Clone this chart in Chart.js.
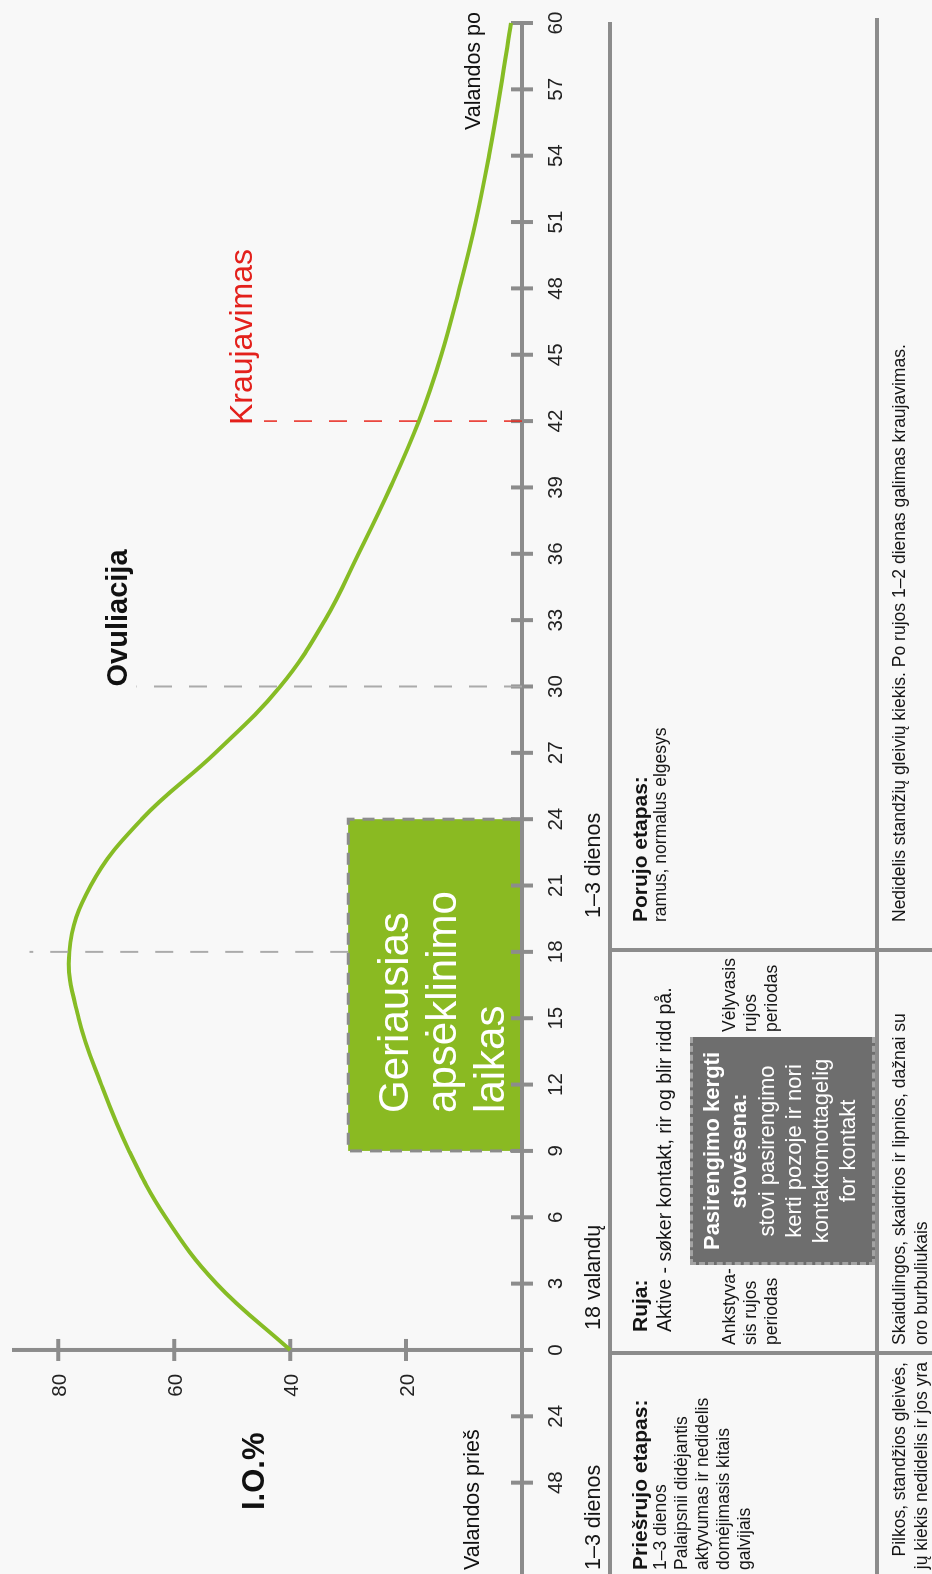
<!DOCTYPE html>
<html lang="lt">
<head>
<meta charset="utf-8">
<title>Rujos ciklas</title>
<script src="https://cdn.jsdelivr.net/npm/chart.js@4.4.1/dist/chart.umd.min.js"></script>
<style>
  html, body { margin: 0; padding: 0; background: #f8f8f8; overflow: hidden; }
  body { width: 932px; height: 1574px; position: relative; font-family: "Liberation Sans", Arial, sans-serif; color: #151515; }
  /* whole picture is laid out landscape and turned a quarter to the left */
  #frame { position: absolute; left: 0; top: 0; width: 1574px; height: 932px; transform-origin: 0 0; transform: translate(0, 1574px) rotate(-90deg); }
  #chart { position: absolute; left: 0; top: 0; }
  .rule { position: absolute; background: #8c8c8c; }
  .t { position: absolute; white-space: nowrap; }
  .time { font-size: 21.5px; line-height: 24px; }
  .lead { font-size: 19.5px; line-height: 24px; }
  .head { font-size: 21px; line-height: 24px; font-weight: bold; }
  .small { font-size: 17.5px; line-height: 21px; }
  .mucus { font-size: 17.5px; line-height: 22px; }
  #standBox { position: absolute; left: 309px; top: 690px; width: 228px; height: 185px; box-sizing: border-box; background: #6e6e6e; border: 3px dashed #a3a3a3; border-right: none; }
  #standText { position: absolute; left: 309px; top: 698px; width: 228px; text-align: center; color: #fff; font-size: 22px; line-height: 27.3px; }
</style>
</head>
<body>
<div id="frame">
  <canvas id="chart" width="1574" height="932"></canvas>

  <div class="rule" style="left:0; top:608px; width:1552px; height:4px;"></div>
  <div class="rule" style="left:0; top:875px; width:1556px; height:4px;"></div>
  <div class="rule" style="left:219px; top:608px; width:4px; height:324px;"></div>
  <div class="rule" style="left:622px; top:608px; width:4px; height:324px;"></div>

  <div class="t time" style="left:4px; top:581px;">1–3 dienos</div>
  <div class="t time" style="left:244px; top:581px;">18 valandų</div>
  <div class="t time" style="left:656px; top:581px;">1–3 dienos</div>

  <div class="t head" style="left:4px; top:628px;">Priešrujo etapas:</div>
  <div class="t small" style="left:4px; top:650px;">1–3 dienos<br>Palaipsnii didėjantis<br>aktyvumas ir nedidelis<br>domėjimasis kitais<br>galvijais</div>

  <div class="t head" style="left:242px; top:628px;">Ruja:</div>
  <div class="t lead" style="left:242px; top:652px;">Aktive - søker kontakt, rir og blir ridd på.</div>
  <div class="t small" style="left:229px; top:719px;">Ankstyva-<br>sis rujos<br>periodas</div>
  <div class="t small" style="left:542px; top:719px;">Vėlyvasis<br>rujos<br>periodas</div>
  <div id="standBox"></div>
  <div id="standText"><b>Pasirengimo kergti<br>stovėsena:</b><br>stovi pasirengimo<br>kerti pozoje ir nori<br>kontaktomottagelig<br>for kontakt</div>

  <div class="t head" style="left:652px; top:628px;">Porujo etapas:</div>
  <div class="t small" style="left:652px; top:650px;">ramus, normalus elgesys</div>

  <div class="t mucus" style="left:-200px; width:412px; text-align:right; top:888px;">Pilkos, standžios gleivės,<br>jų kiekis nedidelis ir jos yra</div>
  <div class="t mucus" style="left:229px; top:888px;">Skaidulingos, skaidrios ir lipnios, dažnai su<br>oro burbuliukais</div>
  <div class="t mucus" style="left:652px; top:888px;">Nedidelis standžių gleivių kiekis. Po rujos 1–2 dienas galimas kraujavimas.</div>
</div>

<script>
// hours after the start of heat, and conception rate (I.O. %)
const hours = [0, 3, 6, 9, 12, 15, 18, 21, 24, 27, 30, 33, 36, 39, 42, 45, 48, 51, 54, 57, 60];
const ioPercent = [40, 52.7, 61.5, 67.8, 72.6, 76.5, 78.1, 74.4, 65.6, 52.9, 41.7, 34, 28.2, 22.7, 17.8, 13.9, 10.8, 8, 5.7, 3.7, 1.9];

// x axis ticks (the two left of 0 count hours before heat)
const xTickValues = [-6, -3, 0, 3, 6, 9, 12, 15, 18, 21, 24, 27, 30, 33, 36, 39, 42, 45, 48, 51, 54, 57, 60];
const xTickLabels = ["48", "24", "0", "3", "6", "9", "12", "15", "18", "21", "24", "27", "30", "33", "36", "39", "42", "45", "48", "51", "54", "57", "60"];
const yTickValues = [20, 40, 60, 80];
const yTickLabels = ["20", "40", "60", "80"];

// dashed marker lines: hour, from level, to level
const markerHours = [18, 30, 42];
const markerFrom = [30, 0, 0];
const markerTo = [85, 66.5, 44.5];

// best insemination time
const bestHours = [9, 24];
const bestLevel = 30;

const FONT = '"Liberation Sans", Arial, sans-serif';

const drawAxes = {
  id: 'drawAxes',
  beforeDatasetsDraw(chart) {
    const { ctx, chartArea, scales: { x, y } } = chart;
    const x0 = x.getPixelForValue(0);
    const y0 = y.getPixelForValue(0);
    ctx.save();

    // green box
    const bx1 = x.getPixelForValue(bestHours[0]);
    const bx2 = x.getPixelForValue(bestHours[1]);
    const by = y.getPixelForValue(bestLevel);
    ctx.fillStyle = '#8aba22';
    ctx.fillRect(bx1, by, bx2 - bx1, y0 - by);
    ctx.setLineDash([12, 8]);
    ctx.strokeStyle = '#8c8c8c';
    ctx.lineWidth = 3;
    ctx.beginPath();
    ctx.moveTo(bx1, y0);
    ctx.lineTo(bx1, by);
    ctx.lineTo(bx2, by);
    ctx.lineTo(bx2, y0);
    ctx.stroke();
    ctx.setLineDash([]);

    ctx.fillStyle = '#ffffff';
    ctx.font = '42px ' + FONT;
    ctx.textAlign = 'left';
    ctx.textBaseline = 'alphabetic';
    ['Geriausias', 'apsėklinimo', 'laikas'].forEach((line, i) => {
      ctx.fillText(line, bx1 + 38, by + 60 + i * 48);
    });

    // axes
    ctx.strokeStyle = '#8c8c8c';
    ctx.lineWidth = 4;
    ctx.beginPath();
    ctx.moveTo(chartArea.left, y0);
    ctx.lineTo(x.getPixelForValue(60), y0);
    ctx.moveTo(x0, y0);
    ctx.lineTo(x0, chartArea.top);
    xTickValues.forEach(v => {
      const px = x.getPixelForValue(v);
      ctx.moveTo(px, y0 - 11);
      ctx.lineTo(px, y0 + 11);
    });
    yTickValues.forEach(v => {
      const py = y.getPixelForValue(v);
      ctx.moveTo(x0 - 11, py);
      ctx.lineTo(x0 + 11, py);
    });
    ctx.stroke();

    ctx.fillStyle = '#222';
    ctx.font = '20.5px ' + FONT;
    ctx.textAlign = 'center';
    xTickValues.forEach((v, i) => {
      ctx.fillText(xTickLabels[i], x.getPixelForValue(v), y0 + 40);
    });
    ctx.textAlign = 'right';
    ctx.textBaseline = 'middle';
    yTickValues.forEach((v, i) => {
      ctx.fillText(yTickLabels[i], x0 - 24, y.getPixelForValue(v) + 2);
    });
    ctx.restore();
  },
  afterDatasetsDraw(chart) {
    const { ctx, chartArea, scales: { x, y } } = chart;
    const y0 = y.getPixelForValue(0);
    ctx.save();
    ctx.textBaseline = 'alphabetic';
    ctx.textAlign = 'left';

    ctx.fillStyle = '#111';
    ctx.font = 'bold 29px ' + FONT;
    ctx.fillText('Ovuliacija', x.getPixelForValue(markerHours[1]), y.getPixelForValue(markerTo[1]) - 10);

    ctx.fillStyle = '#e3201b';
    ctx.font = '32px ' + FONT;
    ctx.fillText('Kraujavimas', x.getPixelForValue(markerHours[2]) - 4, y.getPixelForValue(markerTo[2]) - 12);

    ctx.fillStyle = '#111';
    ctx.font = 'bold 31px ' + FONT;
    ctx.fillText('I.O.%', chartArea.left + 64, y0 - 258);

    ctx.font = '21.5px ' + FONT;
    ctx.fillText('Valandos prieš', chartArea.left + 4, y0 - 43);
    ctx.textAlign = 'right';
    ctx.fillText('Valandos po', chartArea.right + 11, y0 - 42);
    ctx.restore();
  }
};

const markerColors = ['#ababab', '#ababab', '#e8281e'];
const markerWidths = [2, 2, 1.5];

const datasets = markerHours.map((h, i) => ({
  data: [{ x: h, y: markerFrom[i] }, { x: h, y: markerTo[i] }],
  borderColor: markerColors[i],
  borderWidth: markerWidths[i],
  borderDash: [18, 17],
  pointRadius: 0,
  clip: false
}));

datasets.push({
  data: hours.map((h, i) => ({ x: h, y: ioPercent[i] })),
  borderColor: '#86bc25',
  borderWidth: 4,
  pointRadius: 0,
  tension: 0.4,
  clip: false
});

new Chart(document.getElementById('chart'), {
  type: 'line',
  data: { datasets: datasets },
  options: {
    responsive: false,
    devicePixelRatio: 1,
    animation: false,
    layout: { padding: { left: 0, right: 23, top: 12, bottom: 410 } },
    plugins: { legend: { display: false }, tooltip: { enabled: false } },
    scales: {
      x: { type: 'linear', min: -10.13, max: 60, display: false },
      y: { type: 'linear', min: 0, max: 88, display: false }
    }
  },
  plugins: [drawAxes]
});
</script>
</body>
</html>
